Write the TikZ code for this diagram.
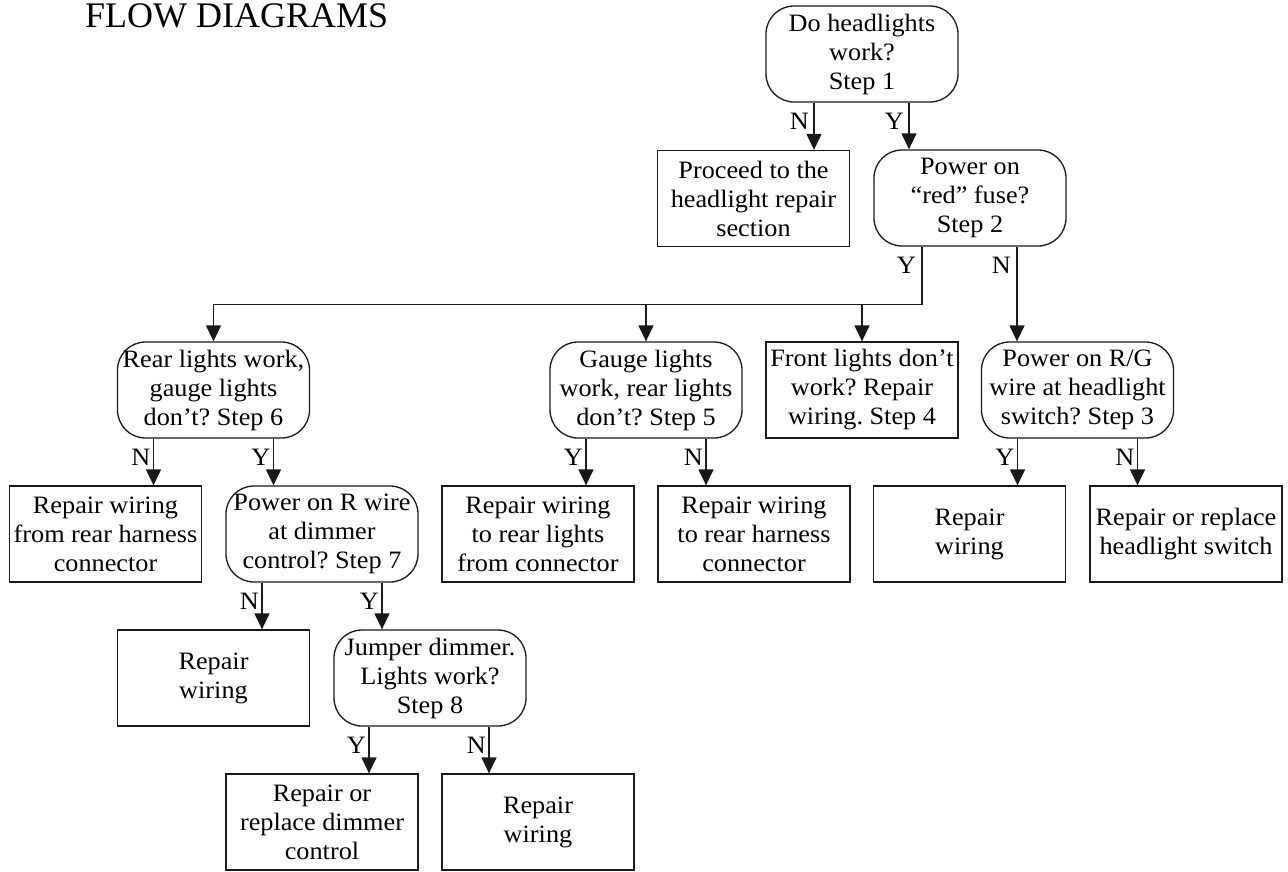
\documentclass[tikz,border=0pt]{standalone}
\usepackage{fontspec}
\setmainfont{Liberation Serif}
\newfontfamily\bodyfont{Liberation Serif}[FakeStretch=1.05]
\usetikzlibrary{arrows.meta}
\frenchspacing
\begin{document}
\begin{tikzpicture}[x=1pt,y=-1pt,
  box/.style={draw=black!90, line width=1.3pt, minimum width=192pt, minimum height=96pt,
    inner sep=0pt, align=center, font=\bodyfont\fontsize{25}{29}\selectfont},
  qbox/.style={box, rounded corners=28pt},
  arr/.style={draw=black!90, line width=1.3pt, -{Triangle[length=16pt,width=15pt]}},
  lbl/.style={anchor=base east, inner sep=0pt, font=\bodyfont\fontsize{25}{29}\selectfont}]
\useasboundingbox (0,0) rectangle (1288,871);

\node[anchor=base west, inner sep=0pt, font=\fontsize{36}{40}\selectfont] (title) at (85,27) {FLOW DIAGRAMS};

% row 1
\node[qbox] (step1) at (862,54) {Do headlights\\work?\\Step 1};
% row 2
\node[box]  (proceed) at (753.5,198.5) {Proceed to the\\headlight repair\\section};
\node[qbox] (step2) at (970,198) {Power on\\“red” fuse?\\Step 2};
% row 3
\node[qbox] (step6) at (213.5,390) {Rear lights work,\\gauge lights\\don’t? Step 6};
\node[qbox] (step5) at (646,390) {Gauge lights\\work, rear lights\\don’t? Step 5};
\node[box]  (step4) at (862,390) {Front lights don’t\\work? Repair\\wiring. Step 4};
\node[qbox] (step3) at (1077.5,390) {Power on R/G\\wire at headlight\\switch? Step 3};
% row 4
\node[box]  (r6n) at (105.5,534) {Repair wiring\\from rear harness\\connector};
\node[qbox] (step7) at (322,534) {Power on R wire\\at dimmer\\control? Step 7};
\node[box]  (r5y) at (538,534) {Repair wiring\\to rear lights\\from connector};
\node[box]  (r5n) at (754,534) {Repair wiring\\to rear harness\\connector};
\node[box]  (r3y) at (969.5,534) {Repair\\wiring};
\node[box]  (r3n) at (1186,534) {Repair or replace\\headlight switch};
% row 5
\node[box]  (r7n) at (213.5,678) {Repair\\wiring};
\node[qbox] (step8) at (430,678) {Jumper dimmer.\\Lights work?\\Step 8};
% row 6
\node[box]  (r8y) at (322,822) {Repair or\\replace dimmer\\control};
\node[box]  (r8n) at (538,822) {Repair\\wiring};

% exit points
\coordinate (s1n) at ([xshift=-48pt]step1.south);
\coordinate (s1y) at ([xshift=47pt]step1.south);
\coordinate (s2y) at ([xshift=-48pt]step2.south);
\coordinate (s2n) at ([xshift=47pt]step2.south);
\coordinate (bus) at ([yshift=-58pt]s2y);
\coordinate (s6n) at ([xshift=-60pt]step6.south);
\coordinate (s6y) at ([xshift=60pt]step6.south);
\coordinate (s5y) at ([xshift=-60pt]step5.south);
\coordinate (s5n) at ([xshift=60pt]step5.south);
\coordinate (s3y) at ([xshift=-60pt]step3.south);
\coordinate (s3n) at ([xshift=60pt]step3.south);
\coordinate (s7n) at ([xshift=-60pt]step7.south);
\coordinate (s7y) at ([xshift=60pt]step7.south);
\coordinate (s8y) at ([xshift=-61pt]step8.south);
\coordinate (s8n) at ([xshift=59pt]step8.south);

% connectors
\draw[arr] (s1n) -- (s1n |- proceed.north);
\draw[arr] (s1y) -- (s1y |- step2.north);
\draw[arr] (s2y) |- (bus -| step6.north) -- (step6.north);
\draw[arr] (bus -| step5.north) -- (step5.north);
\draw[arr] (bus -| step4.north) -- (step4.north);
\draw[arr] (s2n) -- (s2n |- step3.north);
\draw[arr] (s6n) -- (s6n |- r6n.north);
\draw[arr] (s6y) -- (s6y |- step7.north);
\draw[arr] (s5y) -- (s5y |- r5y.north);
\draw[arr] (s5n) -- (s5n |- r5n.north);
\draw[arr] (s3y) -- (s3y |- r3y.north);
\draw[arr] (s3n) -- (s3n |- r3n.north);
\draw[arr] (s7n) -- (s7n |- r7n.north);
\draw[arr] (s7y) -- (s7y |- step8.north);
\draw[arr] (s8y) -- (s8y |- r8y.north);
\draw[arr] (s8n) -- (s8n |- r8n.north);

% labels
\node[lbl] (l1n) at ([xshift=-5pt,yshift=-27pt]s1n) {N};
\node[lbl] (l1y) at ([xshift=-5pt,yshift=-27pt]s1y) {Y};
\node[lbl] (l2y) at ([xshift=-6pt,yshift=-27pt]s2y) {Y};
\node[lbl] (l2n) at ([xshift=-6pt,yshift=-27pt]s2n) {N};
\node[lbl] (l6n) at ([xshift=-3pt,yshift=-27pt]s6n) {N};
\node[lbl] (l6y) at ([xshift=-3pt,yshift=-27pt]s6y) {Y};
\node[lbl] (l5y) at ([xshift=-3pt,yshift=-27pt]s5y) {Y};
\node[lbl] (l5n) at ([xshift=-3pt,yshift=-27pt]s5n) {N};
\node[lbl] (l3y) at ([xshift=-3pt,yshift=-27pt]s3y) {Y};
\node[lbl] (l3n) at ([xshift=-3pt,yshift=-27pt]s3n) {N};
\node[lbl] (l7n) at ([xshift=-3pt,yshift=-27pt]s7n) {N};
\node[lbl] (l7y) at ([xshift=-3pt,yshift=-27pt]s7y) {Y};
\node[lbl] (l8y) at ([xshift=-3pt,yshift=-27pt]s8y) {Y};
\node[lbl] (l8n) at ([xshift=-3pt,yshift=-27pt]s8n) {N};
\end{tikzpicture}
\end{document}
